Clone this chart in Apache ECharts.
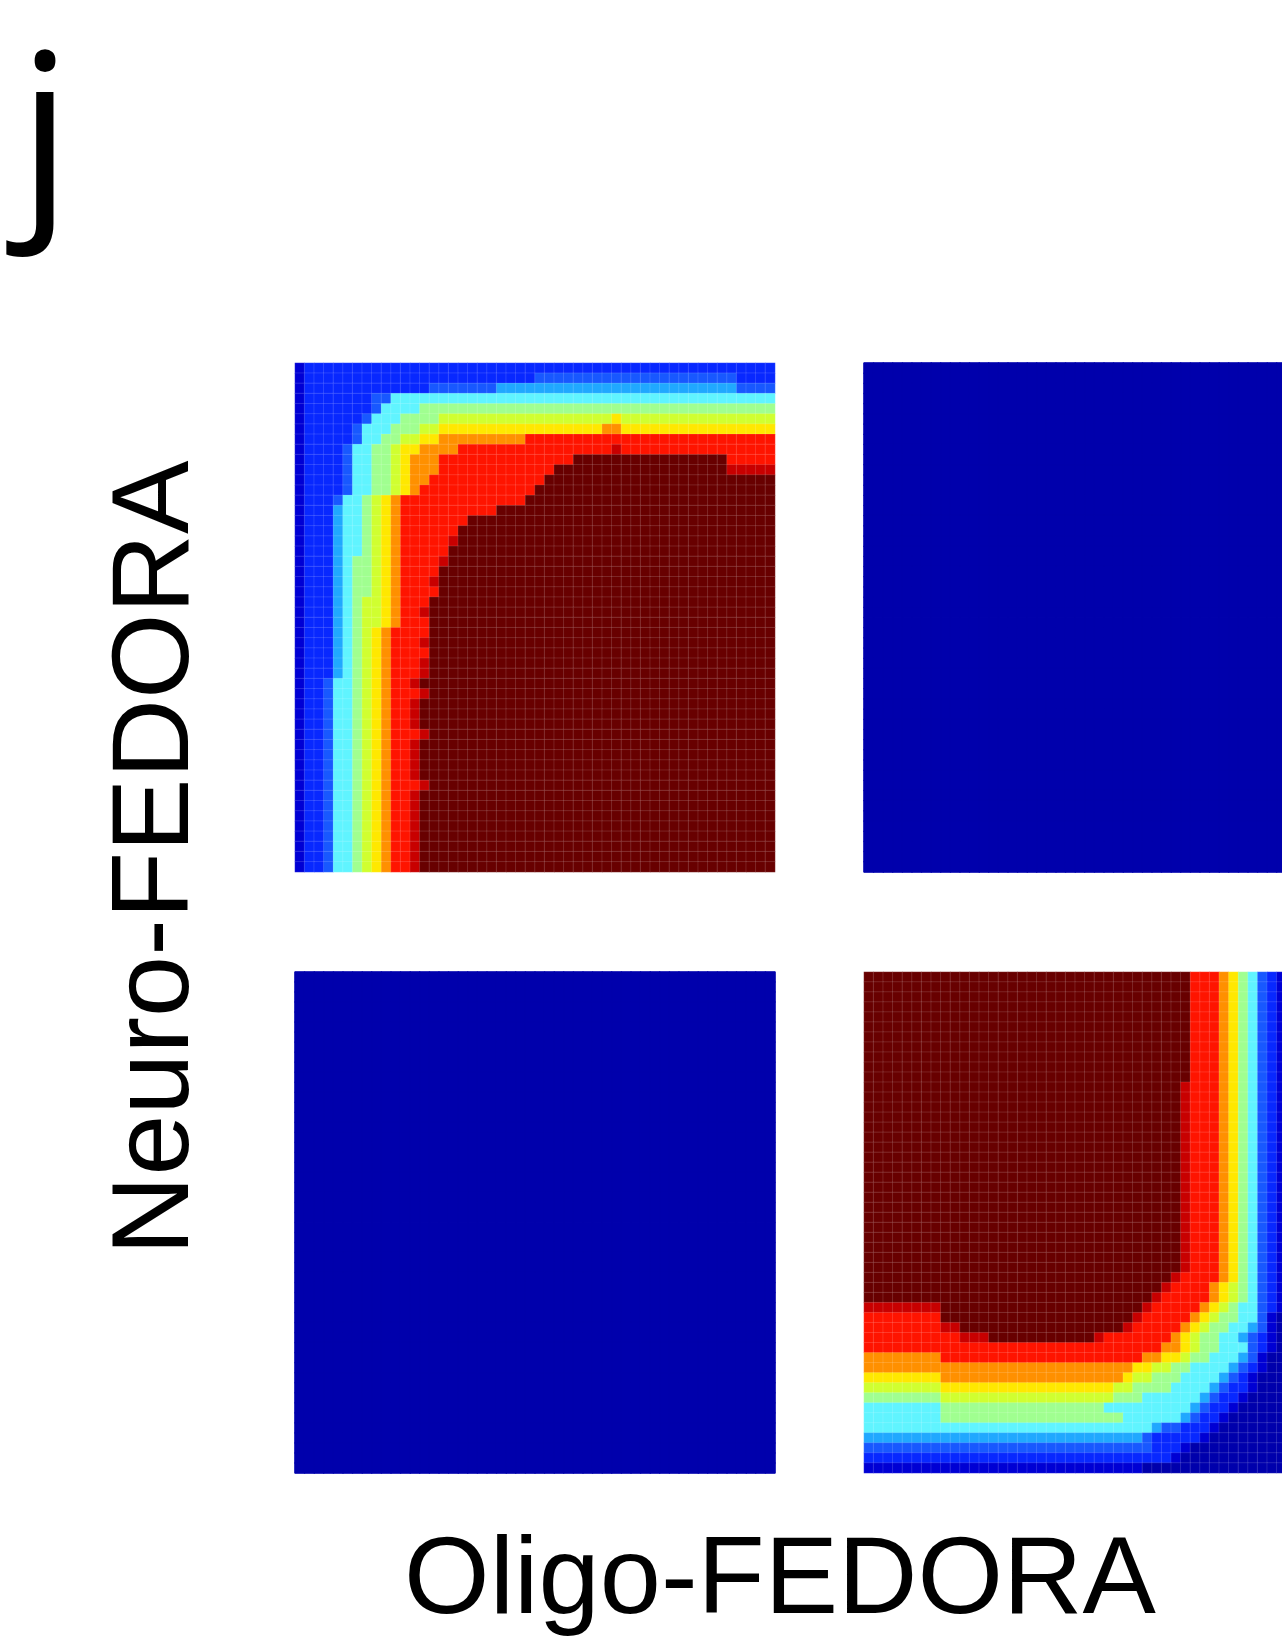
<!DOCTYPE html>
<html>
<head>
<meta charset="utf-8">
<script src="https://cdn.jsdelivr.net/npm/echarts@6/dist/echarts.min.js"></script>
<style>
html,body{margin:0;padding:0;background:#ffffff;overflow:hidden;}
#chart{width:1400px;height:1639px;}
</style>
</head>
<body>
<div id="chart"></div>
<script>
// ---- labels ----
const panelLetter = 'j';
const xAxisTitle = 'Oligo-FEDORA';
const yAxisTitle = 'Neuro-FEDORA';

// ---- colour levels (0 = lowest density ... c = highest), jet-like ----
const levelColors = ['#0000AC','#0000D4','#0828FF','#1858FF','#20A8FF','#60F4FF','#A0FF90',
                     '#D0FF30','#FFE800','#FF9000','#FF1400','#C80000','#680000'];

// ---- cell levels: one string per row (top row first), 50 columns ----
const panelTopLeft = [
 "1222222222 2222222222 2222222222 2222222222 2222222222",
 "1222222222 2222222222 2222233333 3333333333 3333332222",
 "1222222222 2222333333 3444444444 4444444444 4444443333",
 "1222222233 5555555555 5555555555 5555555555 5555555555",
 "1222222235 5556666666 6666666666 6666666666 6666666666",
 "1222222355 5666677777 7777777777 7778777777 7777777777",
 "1222223555 6667788888 8888888888 8899888888 8888888888",
 "1222223556 6778899999 9999aaaaaa aaaaaaaaaa aaaaaaaaaa",
 "1222235566 7889999aaa aaaaaaaaaa aaabaaaaaa aaaaaaaaaa",
 "1222235566 78999aaaaa aaaaaaaaac cccccccccc cccccaaaaa",
 "1222235566 78999aaaaa aaaaaaaccc cccccccccc cccccbbbbb",
 "1222235566 7899aaaaaa aaaaaacccc cccccccccc cccccccccc",
 "1222235566 789aaaaaaa aaaaaccccc cccccccccc cccccccccc",
 "1222355678 9aaaaaaaaa aaaacccccc cccccccccc cccccccccc",
 "1222455678 9aaaaaaaaa accccccccc cccccccccc cccccccccc",
 "1222455678 9aaaaaaacc cccccccccc cccccccccc cccccccccc",
 "1222455678 9aaaaaaccc cccccccccc cccccccccc cccccccccc",
 "1222455678 9aaaaabccc cccccccccc cccccccccc cccccccccc",
 "1222455678 9aaaaacccc cccccccccc cccccccccc cccccccccc",
 "1222456678 9aaaabcccc cccccccccc cccccccccc cccccccccc",
 "1222456678 9aaaaccccc cccccccccc cccccccccc cccccccccc",
 "1222456678 9aaabccccc cccccccccc cccccccccc cccccccccc",
 "1222456678 9aaaaccccc cccccccccc cccccccccc cccccccccc",
 "1222456778 9aaacccccc cccccccccc cccccccccc cccccccccc",
 "1222456778 9aabcccccc cccccccccc cccccccccc cccccccccc",
 "1222456778 9aaacccccc cccccccccc cccccccccc cccccccccc",
 "1222456789 aaaacccccc cccccccccc cccccccccc cccccccccc",
 "1222456789 aaabcccccc cccccccccc cccccccccc cccccccccc",
 "1222456789 aaaacccccc cccccccccc cccccccccc cccccccccc",
 "1222456789 aaabcccccc cccccccccc cccccccccc cccccccccc",
 "1222456789 aaabcccccc cccccccccc cccccccccc cccccccccc",
 "1223556789 aabccccccc cccccccccc cccccccccc cccccccccc",
 "1223556789 aaabcccccc cccccccccc cccccccccc cccccccccc",
 "1223556789 aabccccccc cccccccccc cccccccccc cccccccccc",
 "1223556789 aabccccccc cccccccccc cccccccccc cccccccccc",
 "1223556789 aabccccccc cccccccccc cccccccccc cccccccccc",
 "1223556789 aaabcccccc cccccccccc cccccccccc cccccccccc",
 "1223556789 aabccccccc cccccccccc cccccccccc cccccccccc",
 "1223556789 aabccccccc cccccccccc cccccccccc cccccccccc",
 "1223556789 aabccccccc cccccccccc cccccccccc cccccccccc",
 "1223556789 aabccccccc cccccccccc cccccccccc cccccccccc",
 "1223556789 aaabcccccc cccccccccc cccccccccc cccccccccc",
 "1223556789 aabccccccc cccccccccc cccccccccc cccccccccc",
 "1223556789 aabccccccc cccccccccc cccccccccc cccccccccc",
 "1223556789 aabccccccc cccccccccc cccccccccc cccccccccc",
 "1223556789 aabccccccc cccccccccc cccccccccc cccccccccc",
 "1223556789 aabccccccc cccccccccc cccccccccc cccccccccc",
 "1223556789 aabccccccc cccccccccc cccccccccc cccccccccc",
 "1223556789 aabccccccc cccccccccc cccccccccc cccccccccc",
 "1223556789 aabccccccc cccccccccc cccccccccc cccccccccc"
];

const panelTopRight = [
 "0000000000 0000000000 0000000000 0000000000 0000000000",
 "0000000000 0000000000 0000000000 0000000000 0000000000",
 "0000000000 0000000000 0000000000 0000000000 0000000000",
 "0000000000 0000000000 0000000000 0000000000 0000000000",
 "0000000000 0000000000 0000000000 0000000000 0000000000",
 "0000000000 0000000000 0000000000 0000000000 0000000000",
 "0000000000 0000000000 0000000000 0000000000 0000000000",
 "0000000000 0000000000 0000000000 0000000000 0000000000",
 "0000000000 0000000000 0000000000 0000000000 0000000000",
 "0000000000 0000000000 0000000000 0000000000 0000000000",
 "0000000000 0000000000 0000000000 0000000000 0000000000",
 "0000000000 0000000000 0000000000 0000000000 0000000000",
 "0000000000 0000000000 0000000000 0000000000 0000000000",
 "0000000000 0000000000 0000000000 0000000000 0000000000",
 "0000000000 0000000000 0000000000 0000000000 0000000000",
 "0000000000 0000000000 0000000000 0000000000 0000000000",
 "0000000000 0000000000 0000000000 0000000000 0000000000",
 "0000000000 0000000000 0000000000 0000000000 0000000000",
 "0000000000 0000000000 0000000000 0000000000 0000000000",
 "0000000000 0000000000 0000000000 0000000000 0000000000",
 "0000000000 0000000000 0000000000 0000000000 0000000000",
 "0000000000 0000000000 0000000000 0000000000 0000000000",
 "0000000000 0000000000 0000000000 0000000000 0000000000",
 "0000000000 0000000000 0000000000 0000000000 0000000000",
 "0000000000 0000000000 0000000000 0000000000 0000000000",
 "0000000000 0000000000 0000000000 0000000000 0000000000",
 "0000000000 0000000000 0000000000 0000000000 0000000000",
 "0000000000 0000000000 0000000000 0000000000 0000000000",
 "0000000000 0000000000 0000000000 0000000000 0000000000",
 "0000000000 0000000000 0000000000 0000000000 0000000000",
 "0000000000 0000000000 0000000000 0000000000 0000000000",
 "0000000000 0000000000 0000000000 0000000000 0000000000",
 "0000000000 0000000000 0000000000 0000000000 0000000000",
 "0000000000 0000000000 0000000000 0000000000 0000000000",
 "0000000000 0000000000 0000000000 0000000000 0000000000",
 "0000000000 0000000000 0000000000 0000000000 0000000000",
 "0000000000 0000000000 0000000000 0000000000 0000000000",
 "0000000000 0000000000 0000000000 0000000000 0000000000",
 "0000000000 0000000000 0000000000 0000000000 0000000000",
 "0000000000 0000000000 0000000000 0000000000 0000000000",
 "0000000000 0000000000 0000000000 0000000000 0000000000",
 "0000000000 0000000000 0000000000 0000000000 0000000000",
 "0000000000 0000000000 0000000000 0000000000 0000000000",
 "0000000000 0000000000 0000000000 0000000000 0000000000",
 "0000000000 0000000000 0000000000 0000000000 0000000000",
 "0000000000 0000000000 0000000000 0000000000 0000000000",
 "0000000000 0000000000 0000000000 0000000000 0000000000",
 "0000000000 0000000000 0000000000 0000000000 0000000000",
 "0000000000 0000000000 0000000000 0000000000 0000000000",
 "0000000000 0000000000 0000000000 0000000000 0000000000"
];

const panelBottomLeft = [
 "0000000000 0000000000 0000000000 0000000000 0000000000",
 "0000000000 0000000000 0000000000 0000000000 0000000000",
 "0000000000 0000000000 0000000000 0000000000 0000000000",
 "0000000000 0000000000 0000000000 0000000000 0000000000",
 "0000000000 0000000000 0000000000 0000000000 0000000000",
 "0000000000 0000000000 0000000000 0000000000 0000000000",
 "0000000000 0000000000 0000000000 0000000000 0000000000",
 "0000000000 0000000000 0000000000 0000000000 0000000000",
 "0000000000 0000000000 0000000000 0000000000 0000000000",
 "0000000000 0000000000 0000000000 0000000000 0000000000",
 "0000000000 0000000000 0000000000 0000000000 0000000000",
 "0000000000 0000000000 0000000000 0000000000 0000000000",
 "0000000000 0000000000 0000000000 0000000000 0000000000",
 "0000000000 0000000000 0000000000 0000000000 0000000000",
 "0000000000 0000000000 0000000000 0000000000 0000000000",
 "0000000000 0000000000 0000000000 0000000000 0000000000",
 "0000000000 0000000000 0000000000 0000000000 0000000000",
 "0000000000 0000000000 0000000000 0000000000 0000000000",
 "0000000000 0000000000 0000000000 0000000000 0000000000",
 "0000000000 0000000000 0000000000 0000000000 0000000000",
 "0000000000 0000000000 0000000000 0000000000 0000000000",
 "0000000000 0000000000 0000000000 0000000000 0000000000",
 "0000000000 0000000000 0000000000 0000000000 0000000000",
 "0000000000 0000000000 0000000000 0000000000 0000000000",
 "0000000000 0000000000 0000000000 0000000000 0000000000",
 "0000000000 0000000000 0000000000 0000000000 0000000000",
 "0000000000 0000000000 0000000000 0000000000 0000000000",
 "0000000000 0000000000 0000000000 0000000000 0000000000",
 "0000000000 0000000000 0000000000 0000000000 0000000000",
 "0000000000 0000000000 0000000000 0000000000 0000000000",
 "0000000000 0000000000 0000000000 0000000000 0000000000",
 "0000000000 0000000000 0000000000 0000000000 0000000000",
 "0000000000 0000000000 0000000000 0000000000 0000000000",
 "0000000000 0000000000 0000000000 0000000000 0000000000",
 "0000000000 0000000000 0000000000 0000000000 0000000000",
 "0000000000 0000000000 0000000000 0000000000 0000000000",
 "0000000000 0000000000 0000000000 0000000000 0000000000",
 "0000000000 0000000000 0000000000 0000000000 0000000000",
 "0000000000 0000000000 0000000000 0000000000 0000000000",
 "0000000000 0000000000 0000000000 0000000000 0000000000",
 "0000000000 0000000000 0000000000 0000000000 0000000000",
 "0000000000 0000000000 0000000000 0000000000 0000000000",
 "0000000000 0000000000 0000000000 0000000000 0000000000",
 "0000000000 0000000000 0000000000 0000000000 0000000000",
 "0000000000 0000000000 0000000000 0000000000 0000000000",
 "0000000000 0000000000 0000000000 0000000000 0000000000",
 "0000000000 0000000000 0000000000 0000000000 0000000000",
 "0000000000 0000000000 0000000000 0000000000 0000000000",
 "0000000000 0000000000 0000000000 0000000000 0000000000",
 "0000000000 0000000000 0000000000 0000000000 0000000000"
];

const panelBottomRight = [
 "cccccccccc cccccccccc cccccccccc ccccaaa986 5321000000",
 "cccccccccc cccccccccc cccccccccc ccccaaa986 5321000000",
 "cccccccccc cccccccccc cccccccccc ccccaaa986 5321000000",
 "cccccccccc cccccccccc cccccccccc ccccaaa986 5321000000",
 "cccccccccc cccccccccc cccccccccc ccccaaa986 5321000000",
 "cccccccccc cccccccccc cccccccccc ccccaaa986 5321000000",
 "cccccccccc cccccccccc cccccccccc ccccaaa986 5321000000",
 "cccccccccc cccccccccc cccccccccc ccccaaa986 5321000000",
 "cccccccccc cccccccccc cccccccccc ccccaaa986 5321000000",
 "cccccccccc cccccccccc cccccccccc ccccaaa986 5321000000",
 "cccccccccc cccccccccc cccccccccc ccccaaa986 5321000000",
 "cccccccccc cccccccccc cccccccccc cccbaaa986 5321000000",
 "cccccccccc cccccccccc cccccccccc cccbaaa986 5321000000",
 "cccccccccc cccccccccc cccccccccc cccbaaa986 5321000000",
 "cccccccccc cccccccccc cccccccccc cccbaaa986 5321000000",
 "cccccccccc cccccccccc cccccccccc cccbaaa986 5321000000",
 "cccccccccc cccccccccc cccccccccc cccbaaa986 5321000000",
 "cccccccccc cccccccccc cccccccccc cccbaaa986 5321000000",
 "cccccccccc cccccccccc cccccccccc cccbaaa986 5321000000",
 "cccccccccc cccccccccc cccccccccc cccbaaa986 5321000000",
 "cccccccccc cccccccccc cccccccccc cccbaaa986 5321000000",
 "cccccccccc cccccccccc cccccccccc cccbaaa986 5321000000",
 "cccccccccc cccccccccc cccccccccc cccbaaa986 5321000000",
 "cccccccccc cccccccccc cccccccccc cccbaaa986 5321000000",
 "cccccccccc cccccccccc cccccccccc cccbaaa986 5321000000",
 "cccccccccc cccccccccc cccccccccc cccbaaa986 5321000000",
 "cccccccccc cccccccccc cccccccccc cccbaaa986 5321000000",
 "cccccccccc cccccccccc cccccccccc cccbaaa986 5321000000",
 "cccccccccc cccccccccc cccccccccc cccbaaa986 5321000000",
 "cccccccccc cccccccccc cccccccccc cccbaaa986 5321000000",
 "cccccccccc cccccccccc cccccccccc ccbaaaa986 5321000000",
 "cccccccccc cccccccccc cccccccccc cbaaaa9876 5321000000",
 "cccccccccc cccccccccc cccccccccc baaaaa9876 5321000000",
 "bbbbbbbbcc cccccccccc cccccccccb aaaaa98765 5321000000",
 "aaaaaaaacc cccccccccc ccccccccba aaaa987665 5310000000",
 "aaaaaaaabb cccccccccc cccccccbaa aaa9876655 4310000000",
 "aaaaaaaaaa bbbccccccc ccccbaaaaa aa98766554 3210000000",
 "aaaaaaaaaa aaaaaaaaaa aaaaaaaaaa a998766555 3210000000",
 "99999999aa aaaaaaaaaa aaaaaaaaa9 9887665554 3100000000",
 "9999999999 9999999999 9999999988 7766555543 2100000000",
 "8888888899 9999999999 9999999877 6665555432 1000000000",
 "7777777788 8888888888 8888887766 6655554322 1000000000",
 "6666666677 7777777777 7777776665 5555543221 0000000000",
 "5555555566 6666666666 6666655555 5555432210 0000000000",
 "5555555566 6666666666 6666666555 5554322100 0000000000",
 "5555555555 5555555555 5555555555 4332221000 0000000000",
 "4444444444 4444444444 4444444443 2222210000 0000000000",
 "3333333333 3333333333 3333333333 2221000000 0000000000",
 "2222222222 2222222222 2222222222 2210000000 0000000000",
 "1111111111 1111111111 1111111110 0000000000 0000000000"
];

// ---- build chart ----
const panels = [panelTopLeft, panelTopRight, panelBottomLeft, panelBottomRight];
const gridBoxes = [
  {left: 295, top: 363, width: 480, height: 509},
  {left: 864, top: 363, width: 480, height: 509},
  {left: 295, top: 972, width: 480, height: 501},
  {left: 864, top: 972, width: 480, height: 501}
];

function toCells(rows) {
  const out = [];
  rows.forEach(function (row, y) {
    row.replace(/ /g, '').split('').forEach(function (ch, x) {
      out.push([x, y, parseInt(ch, 16)]);
    });
  });
  return out;
}

const nCols = panelTopLeft[0].replace(/ /g, '').length;
const nRows = panelTopLeft.length;
const colCats = []; for (let i = 0; i < nCols; i++) colCats.push(String(i));
const rowCats = []; for (let i = 0; i < nRows; i++) rowCats.push(String(i));

const chart = echarts.init(document.getElementById('chart'), null, {renderer: 'canvas'});

const option = {
  backgroundColor: '#ffffff',
  animation: false,
  grid: gridBoxes.map(function (g) { return Object.assign({containLabel: false}, g); }),
  xAxis: gridBoxes.map(function (g, i) {
    return {type: 'category', gridIndex: i, data: colCats, show: false};
  }),
  yAxis: gridBoxes.map(function (g, i) {
    return {type: 'category', gridIndex: i, data: rowCats, inverse: true, show: false};
  }),
  visualMap: {
    type: 'continuous', show: false, min: 0, max: levelColors.length - 1,
    dimension: 2, seriesIndex: [0, 1, 2, 3],
    inRange: {color: levelColors}
  },
  series: panels.map(function (p, i) {
    const textured = (i === 0 || i === 3);
    return {
      type: 'heatmap', xAxisIndex: i, yAxisIndex: i,
      data: toCells(p), progressive: 0,
      itemStyle: textured
        ? {borderColor: 'rgba(255,255,255,0.13)', borderWidth: 1}
        : {borderColor: levelColors[0], borderWidth: 1},
      emphasis: {disabled: true}
    };
  }),
  graphic: [
    {type: 'text', x: 18, y: 145,
     style: {text: panelLetter, font: '213px "Open Sans"', fill: '#000000',
             align: 'left', verticalAlign: 'middle', textAlign: 'left', textVerticalAlign: 'middle'}},
    {type: 'text', x: 158, y: 858, rotation: Math.PI / 2,
     style: {text: yAxisTitle, font: '110px "Liberation Sans"', fill: '#000000',
             align: 'center', verticalAlign: 'middle', textAlign: 'center', textVerticalAlign: 'middle'}},
    {type: 'text', x: 780, y: 1583,
     style: {text: xAxisTitle, font: '110px "Liberation Sans"', fill: '#000000',
             align: 'center', verticalAlign: 'middle', textAlign: 'center', textVerticalAlign: 'middle'}}
  ]
};
chart.setOption(option);
</script>
</body>
</html>
